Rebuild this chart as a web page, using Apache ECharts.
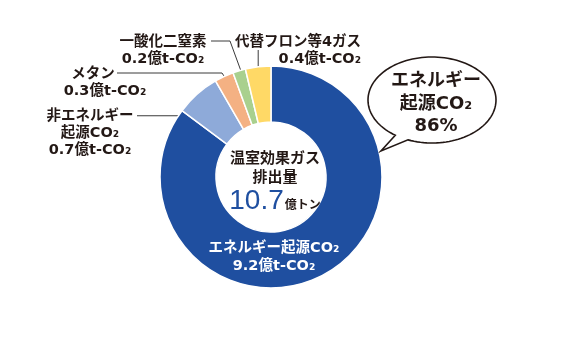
<!DOCTYPE html>
<html>
<head>
<meta charset="utf-8">
<script src="https://cdn.jsdelivr.net/npm/echarts@6/dist/echarts.min.js"></script>
<style>
html,body{margin:0;padding:0;background:#fff;}
#chart{width:569px;height:337px;}
</style>
</head>
<body>
<div id="chart"></div>
<script>
// ---- data ----
const categories = ['エネルギー起源CO₂', '非エネルギー\n起源CO₂', 'メタン', '一酸化二窒素', '代替フロン等4ガス'];
const values = [9.2, 0.7, 0.3, 0.2, 0.4];
const unitText = '億t-CO₂';
const totalValue = '10.7';
const totalUnit = '億トン';
const centerTitle = ['温室効果ガス', '排出量'];
const bubbleLines = ['エネルギー', '起源CO₂', '86%'];

// ---- styles ----
const colors = ['#1f4fa0', '#8eaad9', '#f4b183', '#a9d08e', '#ffd966'];
const FONT = '"DejaVu Sans", "Noto Sans CJK JP", sans-serif';
const CJK = '"Noto Sans CJK JP", "Noto Sans", sans-serif';
const TXT = '#231815';

// speech bubble outline (decoration)
function bubblePoints(cx, cy, rx, ry, a1, a2, tip) {
  const pts = [];
  const steps = 120;
  const start = a2, end = a1 - 360;
  for (let k = 0; k <= steps; k++) {
    const t = (start + (end - start) * k / steps) * Math.PI / 180;
    pts.push([cx + rx * Math.cos(t), cy + ry * Math.sin(t)]);
  }
  pts.push(tip);
  return pts;
}

const chart = echarts.init(document.getElementById('chart'), null, {renderer: 'canvas'});

const data = categories.map((c, i) => ({
  name: c,
  value: values[i],
  itemStyle: {color: colors[i]},
  label: i === 0 ? {position: 'inside', color: '#fff', fontSize: 14.5, lineHeight: 18} : {},
  labelLine: i === 0 ? {show: false} : {show: true, showAbove: true, lineStyle: {color: '#3a3a3a', width: 1}}
}));

// anchor fraction (vertical within sector bounding rect) for label lines
const anchorFrac = [0, 0.55, 0.33, 0.27, 0.2];

const option = {
  animation: false,
  backgroundColor: '#fff',
  series: [{
    type: 'pie',
    center: [271, 177],
    radius: [55, 111],
    startAngle: 90,
    clockwise: true,
    avoidLabelOverlap: false,
    itemStyle: {borderColor: '#fff', borderWidth: 1.5},
    label: {
      show: true,
      position: 'outside',
      fontFamily: FONT,
      fontWeight: 'bold',
      fontSize: 14.5,
      lineHeight: 17,
      color: TXT,
      formatter: p => (p.dataIndex === 2 ? '{s|' + p.name + '}' : p.name) + '\n' + p.value.toFixed(1) + unitText,
      rich: {
        s: {fontFamily: FONT, fontWeight: 'bold', fontSize: 14.5, lineHeight: 17, color: TXT, padding: [0, 24, 0, 0]}
      }
    },
    labelLine: {show: true, showAbove: true, lineStyle: {color: '#3a3a3a', width: 1}},
    labelLayout: function (p) {
      const r = p.rect;
      const ax = r.x + r.width / 2;
      const ay = r.y + r.height * anchorFrac[p.dataIndex];
      switch (p.dataIndex) {
        case 0:
          return {x: 274, y: 257, align: 'center', verticalAlign: 'middle'};
        case 1:
          return {x: 90, y: 133, align: 'center', verticalAlign: 'middle',
            labelLinePoints: [[137, ay], [ax, ay]]};
        case 2:
          return {x: 105, y: 83, align: 'center', verticalAlign: 'middle',
            labelLinePoints: [[117, 73], [222, 73], [ax, ay]]};
        case 3:
          return {x: 163, y: 51, align: 'center', verticalAlign: 'middle',
            labelLinePoints: [[211, 41], [230, 41], [ax, ay]]};
        case 4:
          return {x: 361, y: 51, align: 'right', verticalAlign: 'middle',
            labelLinePoints: [[ax, 50], [ax, ay]]};
      }
    },
    data: data
  }],
  graphic: [
    {
      type: 'text',
      z: 10,
      style: {
        x: 275, y: 182,
        align: 'center', verticalAlign: 'middle',
        text: centerTitle.map(t => '{a|' + t + '}').join('\n') + '\n{n|' + totalValue + '}{u|' + totalUnit + '}',
        rich: {
          a: {fontFamily: CJK, fontWeight: 'bold', fontSize: 15, lineHeight: 19, fill: TXT},
          n: {fontFamily: '"Liberation Sans", Arial, sans-serif', fontSize: 28, lineHeight: 30, fill: '#1f4fa0'},
          u: {fontFamily: CJK, fontWeight: 'bold', fontSize: 12, lineHeight: 30, fill: TXT, padding: [6, 0, 0, 1]}
        }
      }
    },
    {
      type: 'polygon',
      z: 5,
      shape: {points: bubblePoints(432, 100, 64, 43, 125, 112, [381, 151])},
      style: {fill: '#fff', stroke: '#231815', lineWidth: 1.6}
    },
    {
      type: 'text',
      z: 10,
      style: {
        x: 436, y: 104,
        align: 'center', verticalAlign: 'middle',
        text: bubbleLines.join('\n'),
        fontFamily: FONT, fontWeight: 'bold', fontSize: 18, lineHeight: 22.5, fill: TXT
      }
    }
  ]
};
chart.setOption(option);
</script>
</body>
</html>
